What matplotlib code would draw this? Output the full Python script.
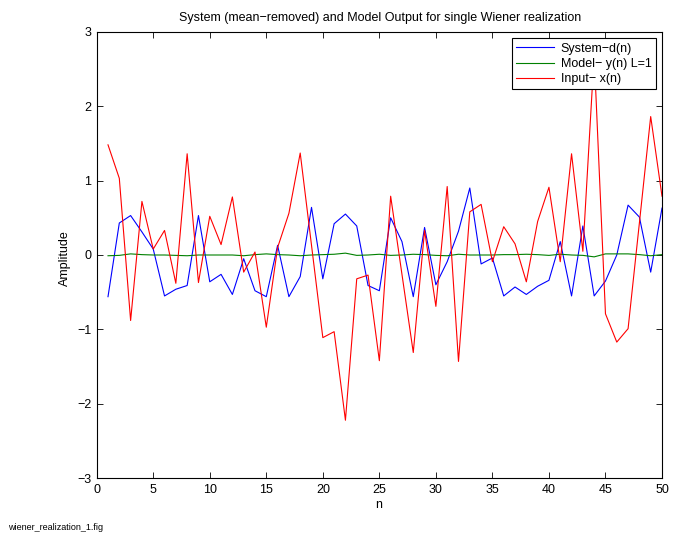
import numpy as np
import matplotlib
matplotlib.use('Agg')
import matplotlib.pyplot as plt

plt.rcParams['font.family'] = ['Liberation Sans', 'DejaVu Sans']

# sample index
n = np.arange(1, 51)

# System output d(n) (mean removed)
system_d = [-0.56, 0.43, 0.53, 0.31, 0.08, -0.55, -0.46, -0.41, 0.53, -0.36,
            -0.26, -0.53, -0.05, -0.48, -0.56, 0.13, -0.56, -0.29, 0.64, -0.32,
            0.42, 0.55, 0.39, -0.41, -0.48, 0.50, 0.18, -0.56, 0.37, -0.40,
            -0.09, 0.32, 0.90, -0.12, -0.04, -0.55, -0.43, -0.53, -0.42, -0.34,
            0.18, -0.55, 0.39, -0.55, -0.35, 0.00, 0.67, 0.51, -0.23, 0.63]

# Model output y(n), L=1
model_y = [-0.01, -0.005, 0.015, 0.005, 0.0, 0.0, -0.005, -0.01, 0.0, 0.0,
           0.0, 0.0, -0.01, 0.005, 0.015, 0.005, 0.0, -0.01, 0.0, 0.005,
           0.01, 0.025, -0.005, 0.0, 0.01, -0.005, 0.0, 0.01, 0.005, -0.005,
           -0.01, 0.01, 0.0, 0.0, 0.0, 0.005, 0.005, 0.01, 0.005, -0.005,
           0.01, 0.0, -0.005, -0.025, 0.015, 0.015, 0.015, 0.005, -0.01, 0.005]

# Input x(n)
input_x = [1.48, 1.03, -0.88, 0.72, 0.08, 0.33, -0.38, 1.36, -0.37, 0.52,
           0.14, 0.78, -0.23, 0.04, -0.97, 0.10, 0.56, 1.37, 0.13, -1.11,
           -1.03, -2.22, -0.32, -0.27, -1.42, 0.79, -0.26, -1.31, 0.33, -0.69,
           0.92, -1.43, 0.58, 0.68, -0.09, 0.38, 0.15, -0.36, 0.45, 0.91,
           -0.09, 1.36, 0.05, 2.69, -0.79, -1.17, -0.99, 0.43, 1.86, 0.79]

fig = plt.figure(figsize=(6.82, 5.40), dpi=100)
W, H = 682, 540
left, right, top, bottom = 96.7, 662, 31.7, 478.3
ax = fig.add_axes([left / W, 1 - bottom / H, (right - left) / W, (bottom - top) / H])

ax.plot(n, system_d, color=(0, 0, 1), lw=0.8, label='System\u2212d(n)')
ax.plot(n, model_y, color=(0, 0.5, 0), lw=0.8, label='Model\u2212 y(n) L=1')
ax.plot(n, input_x, color=(1, 0, 0), lw=0.8, label='Input\u2212 x(n)')

ax.set_xlim(0, 50)
ax.set_ylim(-3, 3)
ax.set_xticks(np.arange(0, 51, 5))
ax.set_yticks(np.arange(-3, 4, 1))
ax.tick_params(direction='in', length=4, width=0.6, top=True, right=True,
               labelsize=9, pad=4)
for s in ax.spines.values():
    s.set_linewidth(0.8)

leg = ax.legend(loc='upper right', bbox_to_anchor=(0.9894, 0.985), borderaxespad=0,
                fancybox=False, edgecolor='black', framealpha=1, fontsize=9,
                handlelength=3.0, handletextpad=0.55, labelspacing=0.25,
                borderpad=0.35)
leg.get_frame().set_linewidth(0.8)

fig.text(380 / W, 1 - 18 / H, 'System (mean\u2212removed) and Model Output for single Wiener realization',
         ha='center', va='center', fontsize=9)
fig.text(379 / W, 1 - 505 / H, 'n', ha='center', va='center', fontsize=9)
fig.text(65 / W, 1 - 258 / H, 'Amplitude', ha='center', va='center', rotation=90, fontsize=9)
fig.text(8 / W, 1 - 528 / H, 'wiener_realization_1.fig', ha='left', va='center', fontsize=6.5)

fig.savefig('out.png', dpi=100)
